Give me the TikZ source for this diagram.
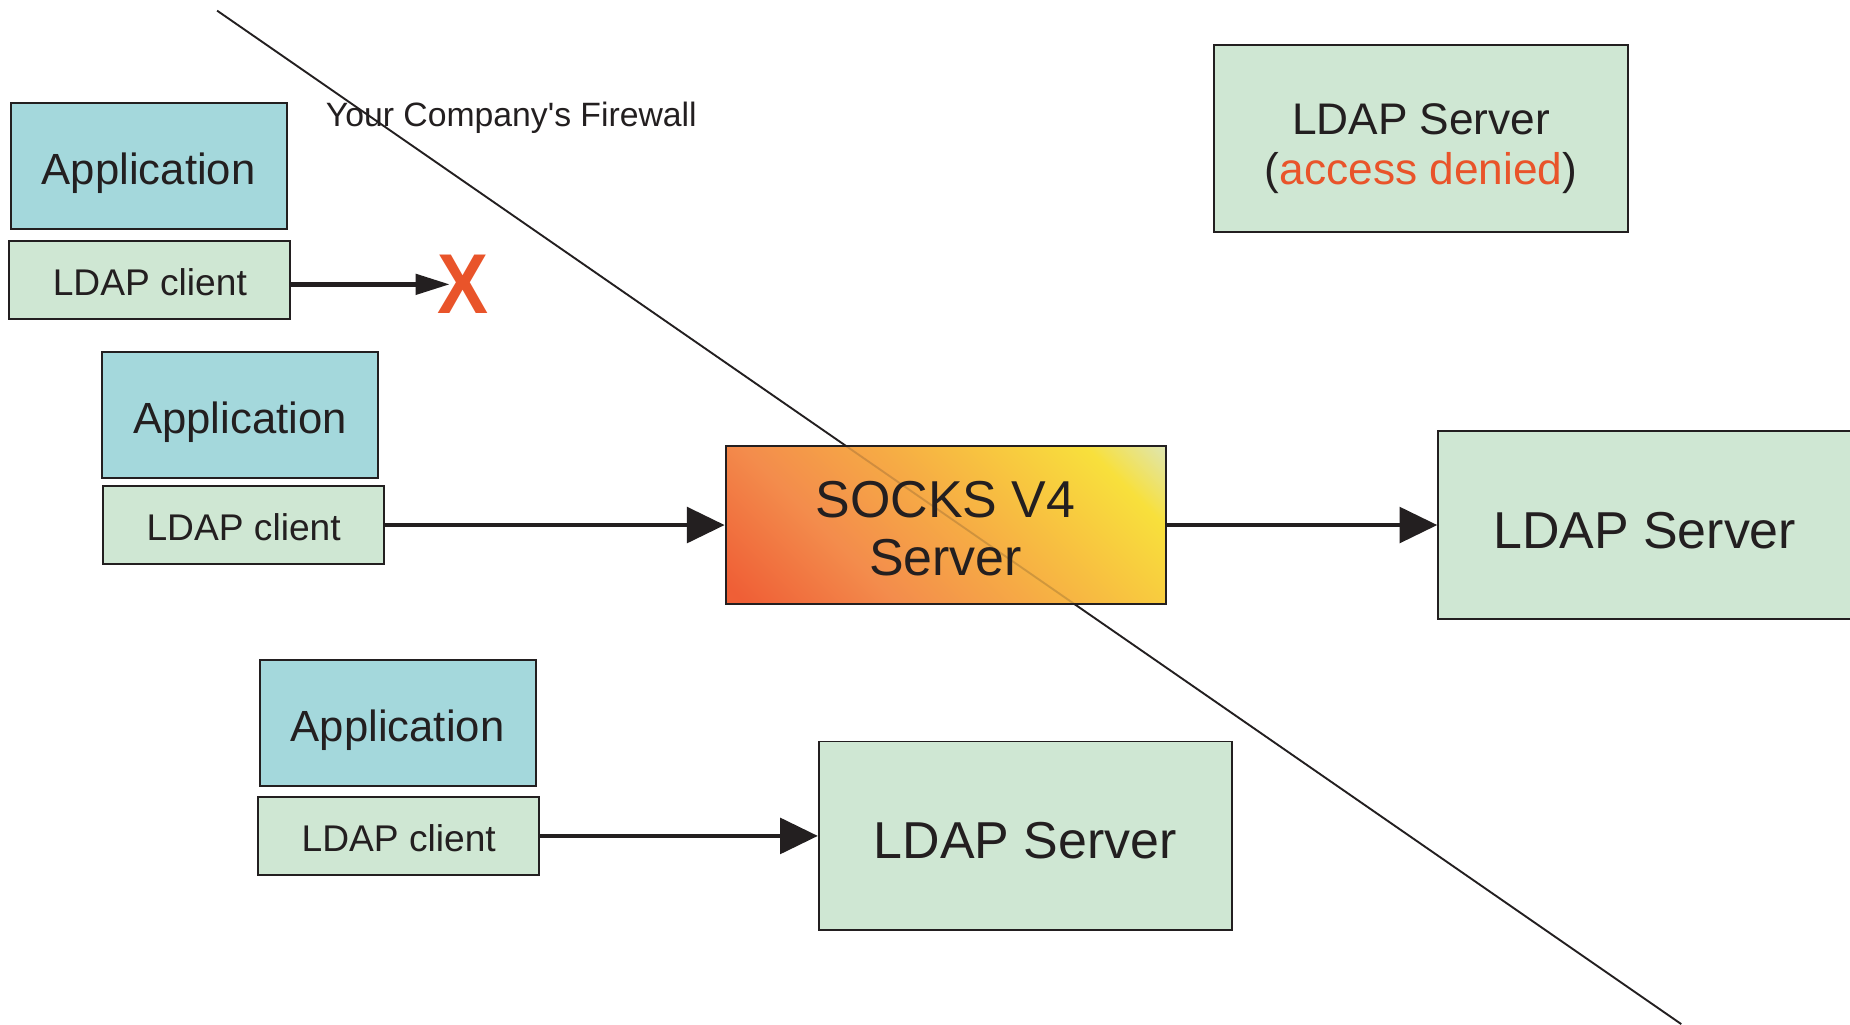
\documentclass[tikz,border=0pt]{standalone}
\usepackage{fontspec}
\setmainfont{Liberation Sans}
\newfontfamily\plainsans{Liberation Sans}
\usetikzlibrary{arrows.meta}

\definecolor{appfill}{HTML}{A4D8DC}
\definecolor{ldapfill}{HTML}{CFE7D3}
\definecolor{ink}{HTML}{231F20}
\definecolor{alert}{HTML}{E9542A}
\definecolor{sA}{HTML}{EF5F36}
\definecolor{sB}{HTML}{F38C4C}
\definecolor{sC}{HTML}{F6AA45}
\definecolor{sD}{HTML}{F8C83F}
\definecolor{sE}{HTML}{F8E03C}
\definecolor{sF}{HTML}{DDE6B8}

\pgfdeclarehorizontalshading{socksgrad}{100bp}{%
  color(0bp)=(sA); color(17bp)=(sA); color(35bp)=(sB); color(51bp)=(sC);
  color(65bp)=(sD); color(76bp)=(sE); color(86bp)=(sF); color(100bp)=(sF)}

% lower a label inside its node without changing the node's size
\newcommand{\nudge}[2]{\raisebox{-#1}[\height][\depth]{#2}}

\tikzset{
  box/.style={draw=ink, line width=1.6pt, inner sep=0pt, text=ink},
  appbox/.style={box, fill=appfill, minimum width=234pt, minimum height=107pt,
    font=\fontsize{37}{44}\selectfont},
  clientbox/.style={box, fill=ldapfill, minimum width=238pt, minimum height=66pt,
    font=\fontsize{31.5}{38}\selectfont},
  serverbox/.style={box, fill=ldapfill, minimum width=350pt, minimum height=160pt,
    font=\fontsize{44}{50}\selectfont},
  link/.style={draw=ink, line width=4pt, -{Triangle[length=32pt,width=30pt]}},
  blocked/.style={draw=ink, line width=4pt, -{Triangle[length=29pt,width=17pt]}},
  wall/.style={draw=ink, line width=1.6pt},
}

\begin{document}
\begin{tikzpicture}[x=1pt, y=-1pt]
  \useasboundingbox (0,0) rectangle (1568,868);
  \clip (0,0) rectangle (1568,868);
  \fill[white] (0,0) rectangle (1568,868);

  % firewall boundary
  \coordinate (fwA) at (184,9);
  \coordinate (fwB) at (1425,868);
  \draw[wall] (fwA) -- (fwB);
  \node[anchor=west, inner sep=0pt, text=ink, font=\plainsans\fontsize{28.6}{33}\selectfont]
    (fwlabel) at (276,98) {\nudge{2pt}{Your Company's Firewall}};

  % clients
  \node[appbox] (app1) at (126,140.5) {\nudge{6pt}{Application}};
  \node[clientbox] (cl1) at (127,237) {\nudge{2pt}{LDAP client}};
  \node[appbox] (app2) at (203.5,351.5) {\nudge{6pt}{Application}};
  \node[clientbox] (cl2) at (206.5,445) {\nudge{2pt}{LDAP client}};
  \node[appbox] (app3) at (337,613) {\nudge{6pt}{Application}};
  \node[clientbox] (cl3) at (338,708.5) {\nudge{2pt}{LDAP client}};

  % refused connection
  \node[inner sep=0pt, text=alert, font=\bfseries\fontsize{72}{72}\selectfont]
    (deny) at (392,241) {\scalebox{0.9}[1]{X}};

  % servers
  \node[box, minimum width=373pt, minimum height=134pt, shading=socksgrad,
    shading angle=45, font=\fontsize{44}{49}\selectfont]
    (socks) at (801.5,445)
    {\nudge{8.5pt}{\begin{tabular}{@{}c@{}}SOCKS V4\\Server\end{tabular}}};
  \begin{scope}
    \clip (socks.south west) rectangle (socks.north east);
    \draw[wall, opacity=0.18] (fwA) -- (fwB);
  \end{scope}
  \node[box, minimum width=373pt, minimum height=134pt] (socksframe) at (socks) {};

  \node[serverbox] (ldapR) at (1394,445) {\nudge{4.5pt}{LDAP Server}};
  \node[serverbox] (ldapB) at (869,708.5) {\nudge{4pt}{LDAP Server}};
  \node[serverbox, minimum width=351pt, minimum height=159pt,
    font=\fontsize{37.5}{43}\selectfont]
    (ldapD) at (1204.5,117.5)
    {\nudge{9pt}{\begin{tabular}{@{}c@{}}LDAP Server\\(\textcolor{alert}{access denied})\end{tabular}}};

  % connections
  \draw[blocked] (cl1.east |- deny) -- ([xshift=11pt]deny.west);
  \draw[link] (cl2.east) -- (socks.west);
  \draw[link] (socks.east) -- (ldapR.west);
  \draw[link] (cl3.east) -- (ldapB.west);
\end{tikzpicture}
\end{document}
